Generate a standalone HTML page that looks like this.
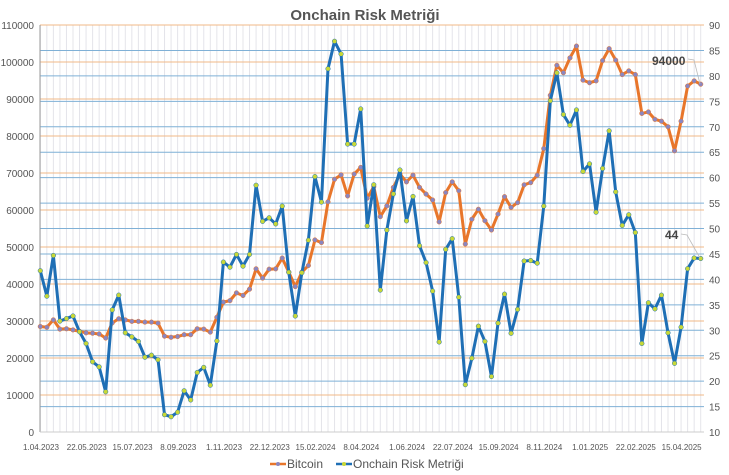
<!DOCTYPE html>
<html><head><meta charset="utf-8"><style>
body{margin:0;background:#fff;}
svg{display:block;font-family:"Liberation Sans",sans-serif;}
</style></head><body>
<svg id="chart" width="729" height="475" viewBox="0 0 729 475" xmlns="http://www.w3.org/2000/svg">
<text x="365" y="20" text-anchor="middle" font-size="15" font-weight="bold" fill="#555">Onchain Risk Metriği</text>
<g id="grid"></g><g id="axes"></g><g id="series"></g>
<g>
<text x="652" y="65" font-size="12" font-weight="bold" fill="#444">94000</text>
<polyline points="688,59 694,60 700,84" fill="none" stroke="#bbb" stroke-width="0.8"/>
</g>
<g>
<text x="665" y="239" font-size="12" font-weight="bold" fill="#444">44</text>
<polyline points="681,234 687,235 700,258" fill="none" stroke="#bbb" stroke-width="0.8"/>
</g>
<g>
<g>
<line x1="270" y1="464" x2="286" y2="464" stroke="#e8762b" stroke-width="2.5"/><circle cx="278" cy="464" r="2" fill="#8a86c0"/>
<text x="287" y="468" font-size="12" fill="#555">Bitcoin</text></g>
<g>
<line x1="336" y1="464" x2="352" y2="464" stroke="#1f6fb5" stroke-width="2.5"/><circle cx="344" cy="464" r="2" fill="#c8d836"/>
<text x="353" y="468" font-size="12" fill="#555">Onchain Risk Metriği</text></g>
</g>
</svg>
<script>
const btc = [28500,28300,30300,27800,27900,27600,27200,26800,26700,26500,25400,29500,30600,30300,29900,29900,29700,29700,29400,25900,25600,25800,26300,26300,27900,27800,27000,31000,35100,35500,37600,36900,38600,44100,41600,44000,44100,47000,43200,39300,43200,45000,51900,51200,62200,68300,69500,63800,69700,71500,63200,66300,58200,61100,66100,69700,67600,69400,66100,64300,62700,56800,64700,67600,65200,50800,57500,60200,57100,54600,58900,63600,60700,62000,66800,67400,69400,76600,91000,99100,97100,101100,104300,95100,94400,94900,100400,103600,100500,96600,97600,96600,86100,86500,84500,84000,82500,76000,84000,93500,94900,94000];
const risk = [41.7,36.7,44.7,31.8,32.3,32.8,29.7,27.4,23.8,22.8,17.9,34.0,36.9,29.5,28.7,27.8,24.7,25.1,24.2,13.4,13.0,13.9,18.1,16.3,21.7,22.7,19.2,27.9,43.4,42.4,44.9,42.6,44.9,58.5,51.4,52.1,50.9,54.4,41.4,32.8,41.3,47.7,60.2,55.2,81.4,86.8,84.3,66.6,66.6,73.5,50.5,58.6,37.9,49.7,56.8,61.5,51.5,56.3,46.6,43.3,37.7,27.7,45.9,48.0,36.5,19.3,24.5,30.8,27.8,20.9,31.4,37.1,29.4,34.1,43.6,43.7,43.2,54.4,75.1,80.6,72.4,70.3,73.3,61.2,62.7,53.2,61.8,69.2,57.2,50.6,52.7,49.2,27.4,35.4,34.2,36.9,29.5,23.5,30.6,42.1,44.2,44.1];
const leftTicks = [0,10000,20000,30000,40000,50000,60000,70000,80000,90000,100000,110000];
const rightTicks = [10,15,20,25,30,35,40,45,50,55,60,65,70,75,80,85,90];
const xLabels = ["1.04.2023","22.05.2023","15.07.2023","8.09.2023","1.11.2023","22.12.2023","15.02.2024","8.04.2024","1.06.2024","22.07.2024","15.09.2024","8.11.2024","1.01.2025","22.02.2025","15.04.2025"];

const NS="http://www.w3.org/2000/svg";
const X0=40.3,X1=700.7,YT=25,YB=432;
const n=btc.length;
function xs(i){return X0+(X1-X0)*i/(n-1);}
function yl(v){return YB-(v/110000)*(YB-YT);}
function yr(v){return YB-((v-10)/80)*(YB-YT);}
function mk(tag,attrs,parent){const e=document.createElementNS(NS,tag);for(const k in attrs)e.setAttribute(k,attrs[k]);parent.appendChild(e);return e;}
const grid=document.getElementById('grid'),axes=document.getElementById('axes'),ser=document.getElementById('series');
for(let i=0;i<n;i++){const l=mk('line',{x1:xs(i),x2:xs(i),y1:YT,y2:YB,stroke:'#e4e4ea','stroke-width':1},grid);

}
leftTicks.forEach(v=>{const l=mk('line',{x1:40,x2:704,y1:yl(v),y2:yl(v),stroke:'#f0b887','stroke-width':1},grid);


const t=mk('text',{x:34,y:yl(v)+4,'text-anchor':'end','font-size':10,fill:'#555'},axes);t.textContent=v;

});
rightTicks.forEach(v=>{if(v>10&&v<90){const l=mk('line',{x1:40,x2:704,y1:yr(v),y2:yr(v),stroke:'#7fb0d6','stroke-width':1},grid);

}
const t=mk('text',{x:709,y:yr(v)+4,'font-size':10,fill:'#555'},axes);t.textContent=v;

});
const ax=mk('line',{x1:40,x2:40,y1:YT,y2:YB,stroke:'#999','stroke-width':1},axes);


const bx=mk('line',{x1:40,x2:704,y1:YB,y2:YB,stroke:'#ccc','stroke-width':1},axes);


xLabels.forEach((s,k)=>{const t=mk('text',{x:41+k*45.76,y:450,'text-anchor':'middle','font-size':8.5,fill:'#555',textLength:s.length*4,lengthAdjust:'spacingAndGlyphs'},axes);t.textContent=s;

});
function drawSeries(arr,yf,color,mcol,name){
const p=mk('polyline',{points:arr.map((v,i)=>xs(i)+','+yf(v)).join(' '),fill:'none',stroke:color,'stroke-width':3,'stroke-linejoin':'round'},ser);


arr.forEach((v,i)=>{const c=mk('circle',{cx:xs(i),cy:yf(v),r:2.3,fill:mcol,stroke:color,'stroke-width':0.5},ser);

});}
drawSeries(btc,yl,'#e8762b','#8a86c0','bitcoin');
drawSeries(risk,yr,'#1f6fb5','#c8d836','risk');
</script>
</body></html>
